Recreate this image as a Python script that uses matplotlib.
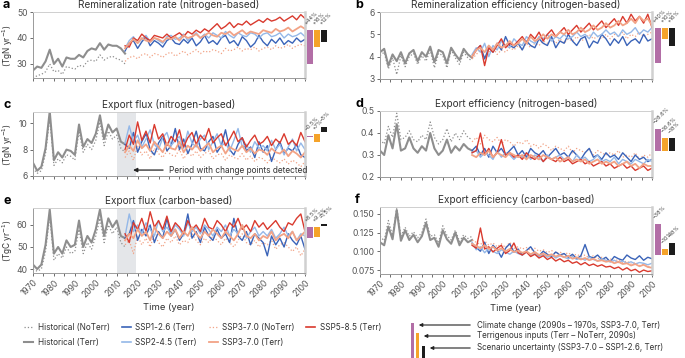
import numpy as np
import matplotlib
matplotlib.use('Agg')
import matplotlib.pyplot as plt
from matplotlib.lines import Line2D
from matplotlib.patches import Rectangle, FancyArrowPatch
from matplotlib.ticker import MultipleLocator, FormatStrFormatter

plt.rcParams['font.family'] = ['Inter', 'DejaVu Sans']

# years (every 2nd year)
hist_years = np.arange(1970, 2015, 2)
scen_years = np.arange(2014, 2101, 2)

# ---- a: remineralization rate (TgN/yr)
a_hist_terr = [27.5, 29, 28.5, 31, 35.5, 30, 32, 29, 32.5, 32, 32, 33.5, 32.5, 35, 36, 35.5, 38, 35.5, 37.5, 37, 37, 36, 34]
a_hist_noterr = [24.5, 25.5, 26, 27, 30, 27, 27.5, 26, 29, 28.5, 28, 29.5, 29, 31, 31.5, 31, 33.5, 31.5, 32.5, 33, 32, 31.5, 30]
a_ssp126 = [35.0, 38.0, 39.0, 36.0, 38.5, 40.5, 37.0, 39.0, 38.0, 36.5, 39.0,
            40.0, 38.0, 37.5, 39.5, 38.0, 40.0, 37.0, 38.5, 41.0, 38.0, 39.0,
            37.5, 40.0, 41.0, 38.0, 39.0, 37.0, 40.5, 39.0, 36.5, 38.0, 41.0,
            38.5, 37.0, 39.5, 38.0, 40.0, 37.5, 39.0, 38.0, 40.0, 38.5, 39.5]
a_ssp245 = [36, 39, 40.5, 38, 39.5, 41, 38.5, 40, 39, 38, 40.5,
            41, 39.5, 40, 41.5, 39, 40.5, 42, 40, 41.5, 40, 42,
            41, 40, 42.5, 41, 40, 42, 41, 40.5, 42, 41.5, 40,
            41.5, 42, 40.5, 41, 42, 40, 41.5, 40.5, 41, 42, 40.5]
a_ssp370 = [36, 38, 39.5, 38, 40, 39, 38.5, 40, 39.5, 38.5, 40,
            39.5, 40.5, 39, 41, 40, 40.5, 41.5, 40, 41, 42, 41,
            40.5, 42, 41.5, 42.5, 41, 42, 43, 41.5, 42.5, 42, 41.5,
            43, 42.5, 42, 43.5, 42.5, 43, 44, 42.5, 43.5, 44.5, 43.5]
a_ssp370_noterr = [31, 32.5, 33, 32, 33.5, 34, 32.5, 34, 33.5, 32.5, 34,
                   34.5, 33, 34, 35, 33.5, 34.5, 35.5, 34, 35, 34.5, 35.5,
                   35, 34, 36, 35, 35.5, 36.5, 35, 36, 35.5, 36.5, 35,
                   36, 36.5, 35.5, 37, 36, 36.5, 37.5, 36, 37, 37.5, 37]
a_ssp585 = [37, 36.5, 40, 39, 41.5, 40, 39, 41, 40.5, 40, 41.5,
            40, 41, 42, 40.5, 42.5, 41.5, 43, 42, 43.5, 42.5, 44,
            45.5, 43.5, 44.5, 46, 44, 45.5, 45, 46.5, 45, 46, 47,
            46, 47.5, 46.5, 47, 48, 46.5, 47.5, 48.5, 47, 49, 47.5]

# ---- b: remineralization efficiency
b_hist_terr = [4.2, 4.35, 3.6, 4.1, 3.8, 4.2, 3.7, 4.15, 4.3, 3.8, 4.2, 4.0, 4.45, 3.75, 4.3, 4.2, 3.7, 4.4, 4.1, 3.85, 4.35, 4.1, 3.95]
b_hist_noterr = [4.05, 4.2, 3.45, 3.95, 3.2, 4.05, 3.55, 4.0, 4.15, 3.65, 4.05, 3.8, 4.3, 3.5, 4.15, 4.05, 3.5, 4.3, 3.95, 3.65, 4.2, 3.95, 3.8]
b_ssp126 = [4.0, 4.3, 4.5, 3.9, 4.4, 4.2, 4.6, 4.3, 4.9, 4.5, 4.4,
            4.6, 4.3, 4.7, 4.5, 4.4, 4.8, 4.6, 4.5, 4.9, 4.4, 4.7,
            4.6, 5.0, 4.7, 4.5, 4.8, 4.9, 4.4, 4.7, 4.6, 5.0, 4.8,
            4.5, 4.8, 4.6, 4.9, 4.5, 4.7, 4.8, 4.6, 5.0, 4.7, 4.8]
b_ssp245 = [4.1, 4.4, 4.2, 4.6, 4.0, 4.5, 4.3, 4.7, 4.5, 4.4, 4.8,
            4.6, 4.5, 4.9, 4.7, 4.6, 4.9, 4.8, 5.0, 4.7, 4.9, 4.8,
            5.0, 4.8, 4.9, 5.1, 4.9, 5.0, 4.8, 5.1, 4.9, 5.0, 5.2,
            5.0, 5.1, 4.9, 5.2, 5.0, 5.1, 5.3, 5.0, 5.2, 5.1, 5.3]
b_ssp370 = [4.0, 4.3, 4.4, 4.2, 4.5, 4.3, 4.6, 4.4, 4.5, 4.7, 4.5,
            4.6, 4.8, 4.6, 4.9, 4.7, 4.8, 5.0, 4.8, 5.0, 4.9, 5.1,
            5.0, 5.2, 5.0, 5.1, 5.3, 5.1, 5.2, 5.4, 5.2, 5.3, 5.5,
            5.3, 5.4, 5.6, 5.4, 5.5, 5.7, 5.5, 5.8, 5.6, 5.7, 5.4]
b_ssp370_noterr = [3.9, 4.1, 4.3, 4.0, 4.2, 4.4, 4.1, 4.3, 4.2, 4.4, 4.3,
                   4.5, 4.3, 4.6, 4.4, 4.6, 4.5, 4.7, 4.6, 4.8, 4.6, 4.8,
                   4.6, 4.8, 4.7, 4.9, 4.7, 4.8, 5.0, 4.8, 4.9, 4.8, 5.0,
                   4.8, 5.0, 4.9, 5.1, 4.8, 5.0, 4.9, 5.1, 4.9, 5.0, 5.1]
b_ssp585 = [4.0, 4.3, 4.5, 3.6, 4.4, 4.2, 4.5, 4.8, 4.4, 4.6, 4.5,
            4.7, 4.9, 4.6, 5.0, 4.8, 5.1, 4.7, 5.0, 5.2, 4.9, 5.1,
            5.3, 5.0, 5.2, 5.4, 5.1, 5.3, 5.5, 5.2, 5.4, 5.6, 5.3,
            5.5, 5.7, 5.4, 5.8, 5.5, 5.9, 5.6, 5.8, 5.5, 5.9, 5.3]

# ---- c: export flux (TgN/yr)
c_hist_terr = [7.0, 6.4, 6.7, 8.1, 10.9, 7.2, 7.8, 7.4, 8.0, 7.9, 7.6, 9.9, 8.2, 8.8, 8.5, 9.2, 10.6, 8.8, 9.9, 9.3, 9.6, 8.6, 8.4]
c_hist_noterr = [6.6, 6.2, 6.4, 7.7, 10.4, 6.8, 7.3, 7.0, 7.6, 7.5, 7.2, 9.4, 7.8, 8.4, 8.0, 8.7, 10.1, 8.3, 9.4, 8.8, 9.1, 8.1, 7.8]
c_ssp126 = [8.4, 8.1, 9.3, 7.8, 8.6, 9.2, 8.0, 7.6, 8.5, 9.0, 7.9,
            8.3, 9.6, 8.0, 8.8, 7.7, 8.4, 9.4, 8.1, 7.9, 8.6, 9.0,
            7.8, 8.3, 9.5, 8.0, 7.6, 8.4, 8.9, 7.9, 8.2, 7.4, 8.6,
            7.8, 8.3, 7.1, 8.0, 8.6, 7.7, 8.1, 7.9, 8.4, 7.6, 7.4]
c_ssp245 = [8.5, 9.8, 8.6, 9.1, 8.2, 8.8, 9.5, 8.4, 8.0, 8.9, 9.3,
            8.3, 8.7, 9.0, 8.1, 9.4, 8.5, 8.2, 8.8, 9.1, 8.0, 8.6,
            9.2, 8.3, 8.5, 7.9, 8.7, 9.6, 8.2, 8.4, 7.8, 8.6, 8.1,
            8.3, 7.9, 8.7, 8.0, 8.4, 7.6, 8.2, 8.8, 7.9, 8.5, 8.0]
c_ssp370 = [7.8, 8.3, 7.9, 8.7, 8.1, 8.4, 7.9, 8.6, 8.2, 7.8, 8.5,
            8.1, 8.0, 8.6, 7.8, 8.3, 8.0, 8.4, 7.9, 8.2, 8.5, 7.8,
            8.1, 8.3, 7.7, 8.2, 8.0, 7.9, 8.3, 7.8, 8.1, 7.7, 8.0,
            7.9, 7.6, 8.1, 7.8, 7.7, 8.0, 7.5, 7.9, 7.7, 7.4, 7.8]
c_ssp370_noterr = [7.4, 7.9, 7.2, 8.3, 7.6, 7.9, 7.3, 8.1, 7.7, 7.4, 7.9,
                   7.6, 7.5, 8.0, 7.3, 7.8, 7.5, 7.9, 7.4, 7.7, 7.9, 7.3,
                   7.6, 7.7, 7.2, 7.6, 7.4, 7.3, 7.7, 7.2, 7.5, 7.1, 7.4,
                   7.3, 7.0, 7.4, 7.2, 7.0, 7.3, 6.9, 7.2, 7.0, 6.7, 7.1]
c_ssp585 = [8.0, 9.1, 8.4, 10.1, 8.7, 9.4, 8.5, 9.9, 8.8, 9.2, 8.3,
            9.0, 8.6, 9.5, 8.2, 8.9, 9.3, 8.4, 9.1, 8.7, 9.6, 8.5,
            8.9, 9.2, 8.3, 8.8, 9.4, 8.6, 8.9, 8.2, 8.7, 9.1, 8.4,
            8.6, 9.0, 8.3, 8.8, 8.5, 9.2, 8.4, 8.7, 8.3, 9.3, 8.6]

# ---- d: export efficiency (nitrogen)
d_hist_terr = [0.32, 0.30, 0.39, 0.33, 0.44, 0.32, 0.33, 0.38, 0.33, 0.31, 0.34, 0.32, 0.40, 0.33, 0.30, 0.32, 0.37, 0.31, 0.34, 0.32, 0.35, 0.33, 0.32]
d_hist_noterr = [0.37, 0.35, 0.43, 0.38, 0.49, 0.37, 0.38, 0.41, 0.37, 0.36, 0.39, 0.37, 0.45, 0.38, 0.35, 0.37, 0.42, 0.36, 0.40, 0.37, 0.41, 0.38, 0.37]
d_ssp126 = [0.32, 0.34, 0.30, 0.33, 0.29, 0.34, 0.31, 0.33, 0.30, 0.32, 0.34,
            0.30, 0.32, 0.29, 0.33, 0.31, 0.30, 0.32, 0.29, 0.31, 0.33, 0.30,
            0.31, 0.29, 0.32, 0.30, 0.28, 0.31, 0.33, 0.29, 0.30, 0.28, 0.31,
            0.29, 0.30, 0.28, 0.31, 0.29, 0.27, 0.30, 0.28, 0.29, 0.27, 0.28]
d_ssp245 = [0.31, 0.32, 0.29, 0.31, 0.30, 0.28, 0.32, 0.29, 0.31, 0.30, 0.28,
            0.30, 0.29, 0.31, 0.28, 0.30, 0.29, 0.27, 0.30, 0.28, 0.29, 0.30,
            0.28, 0.29, 0.27, 0.30, 0.28, 0.29, 0.27, 0.28, 0.30, 0.27, 0.28,
            0.27, 0.29, 0.26, 0.28, 0.27, 0.26, 0.28, 0.27, 0.26, 0.28, 0.27]
d_ssp370 = [0.30, 0.29, 0.31, 0.30, 0.32, 0.29, 0.31, 0.30, 0.29, 0.31, 0.30,
            0.29, 0.30, 0.28, 0.30, 0.29, 0.28, 0.30, 0.29, 0.28, 0.29, 0.27,
            0.28, 0.29, 0.27, 0.28, 0.27, 0.28, 0.26, 0.27, 0.28, 0.26, 0.27,
            0.26, 0.27, 0.25, 0.26, 0.27, 0.25, 0.26, 0.24, 0.26, 0.25, 0.25]
d_ssp370_noterr = [0.36, 0.38, 0.35, 0.39, 0.37, 0.36, 0.38, 0.35, 0.37, 0.36, 0.34,
                   0.36, 0.35, 0.37, 0.34, 0.35, 0.33, 0.35, 0.34, 0.32, 0.34, 0.33,
                   0.32, 0.34, 0.31, 0.33, 0.32, 0.31, 0.33, 0.30, 0.32, 0.31, 0.30,
                   0.31, 0.30, 0.32, 0.29, 0.30, 0.29, 0.31, 0.28, 0.30, 0.29, 0.31]
d_ssp585 = [0.31, 0.32, 0.40, 0.30, 0.33, 0.29, 0.31, 0.37, 0.30, 0.31, 0.29,
            0.30, 0.28, 0.31, 0.29, 0.28, 0.30, 0.27, 0.29, 0.28, 0.27, 0.29,
            0.27, 0.28, 0.26, 0.27, 0.28, 0.26, 0.27, 0.25, 0.26, 0.27, 0.25,
            0.26, 0.24, 0.25, 0.26, 0.24, 0.25, 0.23, 0.24, 0.25, 0.23, 0.24]

# ---- e: export flux (TgC/yr)
e_hist_terr = [42, 40, 42, 51, 67, 47, 50, 47, 53, 50, 51, 62, 50, 55, 52, 58, 67, 55, 63, 59, 62, 55, 54]
e_hist_noterr = [40, 39, 40, 48, 64, 44, 47, 45, 50, 47, 48, 58, 47, 52, 49, 55, 63, 52, 60, 56, 59, 52, 50]
e_ssp126 = [54, 56, 62, 53, 58, 55, 60, 52, 57, 54, 63,
            55, 58, 53, 56, 65, 54, 57, 52, 59, 55, 53,
            58, 54, 56, 52, 63, 55, 53, 57, 51, 56, 54,
            52, 46, 55, 51, 54, 50, 56, 53, 51, 55, 49]
e_ssp245 = [55, 65, 57, 60, 56, 61, 58, 55, 62, 57, 59,
            56, 60, 58, 55, 61, 57, 59, 56, 60, 58, 55,
            59, 57, 60, 55, 58, 56, 60, 54, 57, 59, 55,
            57, 55, 58, 54, 56, 59, 55, 57, 53, 56, 55]
e_ssp370 = [53, 56, 54, 58, 55, 57, 53, 59, 56, 54, 57,
            55, 58, 54, 57, 55, 59, 56, 54, 57, 55, 58,
            56, 54, 57, 55, 53, 56, 60, 55, 54, 56, 53,
            55, 54, 57, 53, 55, 56, 54, 57, 53, 55, 57]
e_ssp370_noterr = [51, 53, 47, 55, 51, 54, 50, 56, 52, 50, 54,
                   52, 55, 51, 53, 52, 56, 53, 51, 54, 52, 55,
                   53, 51, 54, 52, 50, 53, 56, 52, 51, 53, 50,
                   52, 51, 53, 49, 51, 52, 50, 48, 50, 46, 49]
e_ssp585 = [56, 52, 61, 58, 63, 57, 66, 59, 62, 58, 64,
            57, 61, 59, 56, 62, 58, 60, 57, 63, 59, 58,
            62, 60, 57, 61, 59, 63, 58, 60, 57, 62, 59,
            61, 58, 60, 62, 59, 57, 61, 60, 63, 65, 57]

# ---- f: export efficiency (carbon)
f_hist_terr = [0.112, 0.108, 0.133, 0.116, 0.155, 0.114, 0.128, 0.115, 0.122, 0.112, 0.120, 0.138, 0.115, 0.118, 0.106, 0.128, 0.116, 0.110, 0.125, 0.108, 0.118, 0.112, 0.115]
f_hist_noterr = [0.120, 0.114, 0.141, 0.121, 0.158, 0.120, 0.132, 0.120, 0.126, 0.118, 0.125, 0.143, 0.120, 0.122, 0.111, 0.134, 0.121, 0.115, 0.128, 0.113, 0.122, 0.117, 0.120]
f_ssp126 = [0.110, 0.105, 0.100, 0.112, 0.097, 0.108, 0.102, 0.092, 0.104, 0.110, 0.099,
            0.103, 0.095, 0.101, 0.106, 0.098, 0.094, 0.100, 0.096, 0.093, 0.099, 0.095,
            0.097, 0.092, 0.096, 0.090, 0.094, 0.109, 0.093, 0.091, 0.095, 0.089, 0.092,
            0.086, 0.093, 0.090, 0.088, 0.095, 0.091, 0.089, 0.094, 0.088, 0.092, 0.090]
f_ssp245 = [0.112, 0.102, 0.106, 0.098, 0.104, 0.100, 0.097, 0.102, 0.099, 0.096, 0.100,
            0.097, 0.095, 0.099, 0.094, 0.097, 0.093, 0.096, 0.092, 0.095, 0.091, 0.094,
            0.092, 0.090, 0.093, 0.089, 0.091, 0.088, 0.092, 0.089, 0.087, 0.090, 0.088,
            0.086, 0.088, 0.085, 0.087, 0.084, 0.086, 0.083, 0.085, 0.084, 0.082, 0.084]
f_ssp370 = [0.110, 0.107, 0.104, 0.108, 0.103, 0.106, 0.101, 0.104, 0.100, 0.103, 0.099,
            0.101, 0.098, 0.100, 0.096, 0.099, 0.095, 0.097, 0.094, 0.096, 0.093, 0.095,
            0.092, 0.094, 0.090, 0.092, 0.089, 0.091, 0.088, 0.090, 0.087, 0.088, 0.086,
            0.087, 0.084, 0.086, 0.083, 0.084, 0.081, 0.083, 0.080, 0.082, 0.079, 0.078]
f_ssp370_noterr = [0.115, 0.112, 0.109, 0.114, 0.108, 0.111, 0.106, 0.110, 0.105, 0.112, 0.104,
                   0.106, 0.103, 0.105, 0.101, 0.104, 0.100, 0.102, 0.098, 0.101, 0.097, 0.099,
                   0.096, 0.098, 0.094, 0.096, 0.093, 0.095, 0.091, 0.094, 0.090, 0.092, 0.089,
                   0.090, 0.087, 0.089, 0.085, 0.087, 0.083, 0.085, 0.081, 0.083, 0.080, 0.079]
f_ssp585 = [0.108, 0.104, 0.131, 0.103, 0.106, 0.099, 0.104, 0.108, 0.097, 0.101, 0.111,
            0.098, 0.095, 0.099, 0.093, 0.096, 0.091, 0.094, 0.089, 0.092, 0.087, 0.090,
            0.086, 0.088, 0.084, 0.086, 0.082, 0.085, 0.081, 0.083, 0.080, 0.082, 0.079,
            0.080, 0.077, 0.079, 0.075, 0.078, 0.074, 0.076, 0.072, 0.075, 0.073, 0.074]

# change bars: (low, high) for climate change / terrigenous / scenario
a_bars = [(30.0, 43.1), (36.5, 43.1), (38.5, 43.1)]
b_bars = [(3.72, 5.28), (4.79, 5.28), (4.48, 5.28)]
c_bars = [(8.97, 9.03), (8.54, 9.15), (9.31, 9.69)]
d_bars = [(0.318, 0.418), (0.318, 0.379), (0.318, 0.375)]
e_bars = [(54.1, 59.1), (54.5, 59.1), (59.5, 60.3)]
f_bars = [(0.0947, 0.137), (0.0947, 0.1027), (0.0947, 0.1112)]
a_pct = ['+44%', '+16%', '+12%']
b_pct = ['+40%', '+10%', '+16%']
c_pct = ['\u22120.5%', '+7%', '\u22125%']
d_pct = ['\u221228.6%', '\u221216.6%', '\u221218%']
e_pct = ['+8.5%', '+9.2%', '\u22121.5%']
f_pct = ['\u221238%', '\u221210%', '\u221218%']

col_hist = '#8e8e8e'
col_126 = '#3a63b8'
col_245 = '#94b8e8'
col_370 = '#f2a386'
col_585 = '#d93a2e'
bar_cols = ['#b26ea6', '#f5a32a', '#1c1c1c']

W, H = 685, 358
fig = plt.figure(figsize=(W / 100, H / 100), dpi=100)


def rect(l, t, r, b):
    return [l / W, 1 - b / H, (r - l) / W, (b - t) / H]


panels = [
    # letter, title, box (l,t,r,b px), bar box x, ylim, yticks, ylabel, data, bars, pct
    ('a', 'Remineralization rate (nitrogen-based)', (33, 12, 305, 78), (306, 328), (24.6, 50), [30, 40, 50],
     '(TgN yr$^{-1}$)', (a_hist_terr, a_hist_noterr, a_ssp126, a_ssp245, a_ssp370, a_ssp370_noterr, a_ssp585), a_bars, a_pct),
    ('b', 'Remineralization efficiency (nitrogen-based)', (380, 12, 652, 79), (654, 676), (3, 6), [3, 4, 5, 6],
     None, (b_hist_terr, b_hist_noterr, b_ssp126, b_ssp245, b_ssp370, b_ssp370_noterr, b_ssp585), b_bars, b_pct),
    ('c', 'Export flux (nitrogen-based)', (33, 112, 305, 176), (306, 328), (6, 10.85), [6, 8, 10],
     '(TgN yr$^{-1}$)', (c_hist_terr, c_hist_noterr, c_ssp126, c_ssp245, c_ssp370, c_ssp370_noterr, c_ssp585), c_bars, c_pct),
    ('d', 'Export efficiency (nitrogen-based)', (380, 111, 652, 177), (654, 676), (0.2, 0.5), [0.2, 0.3, 0.4, 0.5],
     None, (d_hist_terr, d_hist_noterr, d_ssp126, d_ssp245, d_ssp370, d_ssp370_noterr, d_ssp585), d_bars, d_pct),
    ('e', 'Export flux (carbon-based)', (33, 208, 305, 273), (306, 328), (38.2, 67.7), [40, 50, 60],
     '(TgC yr$^{-1}$)', (e_hist_terr, e_hist_noterr, e_ssp126, e_ssp245, e_ssp370, e_ssp370_noterr, e_ssp585), e_bars, e_pct),
    ('f', 'Export efficiency (carbon-based)', (380, 207, 652, 274), (654, 676), (0.0697, 0.159), [0.075, 0.100, 0.125, 0.150],
     None, (f_hist_terr, f_hist_noterr, f_ssp126, f_ssp245, f_ssp370, f_ssp370_noterr, f_ssp585), f_bars, f_pct),
]

for letter, title, box, bx, ylim, yticks, ylabel, series, bars, pct in panels:
    ht, hn, s126, s245, s370, s370n, s585 = series
    ax = fig.add_axes(rect(*box))
    if letter in ('c', 'e'):
        ax.axvspan(2010, 2019, color='#e4e6e9', lw=0, zorder=0)
    ax.plot(hist_years, hn, color=col_hist, lw=0.9, ls=':')
    ax.plot(hist_years, ht, color=col_hist, lw=1.5)
    ax.plot(scen_years, s370n, color=col_370, lw=0.9, ls=':')
    ax.plot(scen_years, s126, color=col_126, lw=1.0)
    ax.plot(scen_years, s245, color=col_245, lw=1.0)
    ax.plot(scen_years, s585, color=col_585, lw=1.0)
    ax.plot(scen_years, s370, color=col_370, lw=1.3)
    ax.set_xlim(1970, 2100)
    ax.set_ylim(*ylim)
    ax.set_yticks(yticks)
    if letter == 'f':
        ax.yaxis.set_major_formatter(FormatStrFormatter('%.3f'))
    ax.xaxis.set_major_locator(MultipleLocator(10))
    ax.xaxis.set_minor_locator(MultipleLocator(5))
    ax.tick_params(axis='both', which='both', labelsize=6.2, colors='#555555', length=2.2, width=0.6, pad=1.5)
    ax.tick_params(axis='y', length=2.5)
    for s in ('left', 'bottom'):
        ax.spines[s].set_color('#9a9a9a')
        ax.spines[s].set_linewidth(0.7)
    ax.spines['top'].set_color('#cfcfcf')
    ax.spines['top'].set_linewidth(0.7)
    ax.spines['right'].set_color('#d0d0d0')
    ax.spines['right'].set_linewidth(1.8)
    if letter in ('e', 'f'):
        for lab in ax.get_xticklabels():
            lab.set_rotation(45)
            lab.set_ha('right')
            lab.set_rotation_mode('anchor')
        ax.set_xlabel('Time (year)', fontsize=6.8, color='#333333', labelpad=2)
    else:
        ax.set_xticklabels([])
    if ylabel:
        ax.set_ylabel(ylabel, fontsize=6.0, color='#333333')
        ax.yaxis.set_label_coords((15.5 - box[0]) / (box[2] - box[0]), 0.5)
    ax.set_title(title, fontsize=7.2, color='#333333', pad=3)
    lx = 3 if box[0] < 100 else 355
    fig.text(lx / W, 1 - (box[1] - 7) / H, letter, fontsize=9, fontweight='bold', va='center', ha='left')

    if letter == 'c':
        ax.annotate('', xy=(2016.5, 6.45), xytext=(2033.5, 6.45),
                    arrowprops=dict(arrowstyle='-|>', color='#222222', lw=0.9, mutation_scale=6))
        ax.text(2035, 6.45, 'Period with change points detected', fontsize=6.0, color='#333333', va='center')

    bax = fig.add_axes(rect(bx[0], box[1], bx[1], box[3]), sharey=ax)
    bax.set_xlim(-0.5, 2.5)
    bax.axis('off')
    for i, ((lo, hi), c, p) in enumerate(zip(bars, bar_cols, pct)):
        bax.bar(i, hi - lo, bottom=lo, width=0.78, color=c, clip_on=False)
        bax.annotate(p, xy=(i - 0.3, hi), xytext=(0, 3), textcoords='offset points',
                     rotation=45, fontsize=4.0, color='#444444', ha='left', va='bottom',
                     rotation_mode='anchor', annotation_clip=False)
    ax.set_ylim(*ylim)

# bottom legend
handles = [
    Line2D([], [], color=col_hist, lw=0.9, ls=':'),
    Line2D([], [], color=col_hist, lw=1.5),
    Line2D([], [], color=col_126, lw=1.2),
    Line2D([], [], color=col_245, lw=1.2),
    Line2D([], [], color=col_370, lw=0.9, ls=':'),
    Line2D([], [], color=col_370, lw=1.3),
    Line2D([], [], color=col_585, lw=1.2),
]
labels = ['Historical (NoTerr)', 'Historical (Terr)', 'SSP1-2.6 (Terr)', 'SSP2-4.5 (Terr)',
          'SSP3-7.0 (NoTerr)', 'SSP3-7.0 (Terr)', 'SSP5-8.5 (Terr)']
leg = fig.legend(handles, labels, ncol=4, loc='upper left', bbox_to_anchor=(20 / W, 1 - 319 / H),
                 frameon=False, fontsize=5.9, handlelength=1.1, handletextpad=0.6,
                 columnspacing=1.4, labelspacing=0.75, borderpad=0)
for t in leg.get_texts():
    t.set_color('#333333')

# right legend for the change bars
key_bars = [(411, 323), (416, 333), (422, 346)]
key_text = ['Climate change (2090s \u2013 1970s, SSP3-7.0, Terr)',
            'Terrigenous inputs (Terr \u2013 NoTerr, 2090s)',
            'Scenario uncertainty (SSP3-7.0 \u2013 SSP1-2.6, Terr)']
key_y = [325, 336, 348]
for (x0, top), c, txt, ty in zip(key_bars, bar_cols, key_text, key_y):
    fig.add_artist(Rectangle((x0 / W, 0), 3 / W, 1 - top / H, transform=fig.transFigure,
                             color=c, lw=0))
    fig.add_artist(FancyArrowPatch(
        (473 / W, 1 - ty / H), ((x0 + 5) / W, 1 - ty / H), transform=fig.transFigure,
        arrowstyle='-|>', mutation_scale=5, color='#222222', lw=0.8))
    fig.text(477 / W, 1 - ty / H, txt, fontsize=5.8, color='#333333', va='center', ha='left')

fig.savefig('out.png', dpi=100)
